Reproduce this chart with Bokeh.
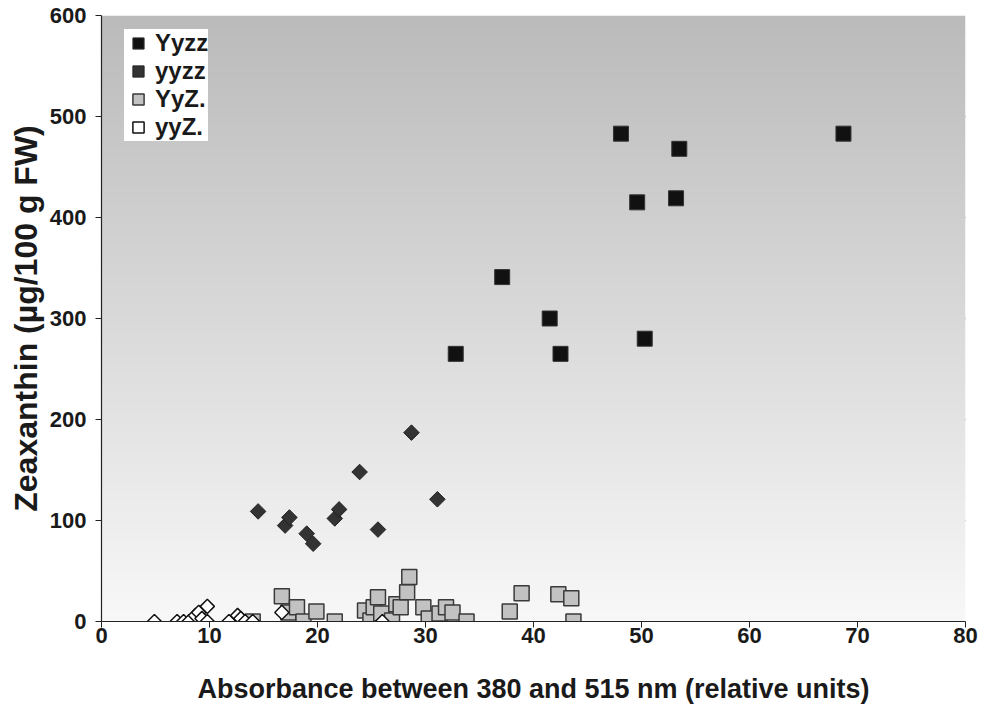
import numpy as np
from bokeh.plotting import figure
from bokeh.models import FixedTicker, Range1d, Legend, LegendItem
from bokeh.embed import file_html
from bokeh.resources import INLINE

# Genotype groups: absorbance (380-515 nm) vs zeaxanthin content
yyzz_dom_x = [32.8, 37.1, 41.5, 42.5, 48.1, 49.6, 50.3, 53.2, 53.5, 68.7]
yyzz_dom_y = [265, 341, 300, 265, 483, 415, 280, 419, 468, 483]

yyzz_x = [14.5, 17.0, 17.4, 19.0, 19.6, 21.6, 22.0, 23.9, 25.6, 28.7, 31.1]
yyzz_y = [109, 95, 103, 87, 77, 102, 111, 148, 91, 187, 121]

yyz_dom_x = [14.0, 16.7, 17.3, 18.1, 18.7, 19.9, 21.6, 24.4, 24.9, 25.2, 25.6,
             25.9, 26.9, 27.3, 27.7, 28.3, 28.5, 29.8, 30.3, 31.3, 31.9, 32.5,
             33.8, 37.8, 38.9, 42.3, 43.5, 43.7]
yyz_dom_y = [0, 25, 9, 14, 0, 10, 0, 11, 1, 14, 24, 8, 1, 17, 14, 29, 44, 14,
             3, 8, 14, 9, 0, 10, 28, 27, 23, 0]

yyz_x = [4.9, 7.0, 7.6, 8.1, 8.7, 9.0, 9.3, 9.8, 9.8, 11.8, 12.6, 12.9, 13.3,
         14.0, 16.7, 26.0]
yyz_y = [0, 0, 0, 0, 6, 9, 3, 15, 0, 0, 6, 3, 0, 0, 9, 0]

series_labels = ["Yyzz", "yyzz", "YyZ.", "yyZ."]
x_ticks = [0, 10, 20, 30, 40, 50, 60, 70, 80]
y_ticks = [0, 100, 200, 300, 400, 500, 600]

FONT = "Liberation Sans"

p = figure(width=985, height=712, output_backend="svg", toolbar_location=None,
           x_range=Range1d(0, 80), y_range=Range1d(0, 600),
           min_border_left=101, min_border_right=20,
           min_border_top=15, min_border_bottom=91)
p.background_fill_color = "white"
p.border_fill_color = "white"
p.outline_line_color = None

# vertical grey gradient behind the data
n = 256
t = np.linspace(0.0, 1.0, n)  # 0 at bottom, 1 at top
g = (248 - t * (248 - 187)).astype(np.uint32)
img = np.empty((n, 1), dtype=np.uint32)
view = img.view(dtype=np.uint8).reshape((n, 1, 4))
view[:, 0, 0] = g
view[:, 0, 1] = g
view[:, 0, 2] = g
view[:, 0, 3] = 255
p.image_rgba(image=[img], x=0, y=0, dw=80, dh=600)

# axes
for ax in (p.xaxis[0], p.yaxis[0]):
    ax.axis_line_color = "#222222"
    ax.axis_line_width = 1.2
    ax.major_tick_line_color = "#222222"
    ax.major_tick_out = 6
    ax.major_tick_in = 0
    ax.minor_tick_line_color = None
    ax.major_label_text_font = FONT
    ax.major_label_text_font_style = "bold"
    ax.major_label_text_font_size = "22px"
    ax.major_label_text_color = "#1a1a1a"
    ax.axis_label_text_font = FONT
    ax.axis_label_text_font_style = "bold"
    ax.axis_label_text_color = "#1a1a1a"

p.xaxis.ticker = FixedTicker(ticks=x_ticks)
p.yaxis.ticker = FixedTicker(ticks=y_ticks)
p.xaxis.axis_label = "Absorbance between 380 and 515 nm (relative units)"
p.yaxis.axis_label = "Zeaxanthin (\u00b5g/100 g FW)"
p.xaxis.axis_label_text_font_size = "27px"
p.yaxis.axis_label_text_font_size = "32px"
p.xaxis.major_label_standoff = 0
p.yaxis.major_label_standoff = 9
p.xaxis.axis_label_standoff = 28
p.yaxis.axis_label_standoff = 3

p.xgrid.grid_line_color = None
p.ygrid.ticker = FixedTicker(ticks=[100, 200, 300, 400, 500])
p.ygrid.grid_line_color = "#2a2a2a"
p.ygrid.grid_line_width = 1.5

r_dom = p.scatter(yyzz_dom_x, yyzz_dom_y, marker="square", size=15,
                  fill_color="#111111", line_color="#333333", line_width=1)
r_yyzz = p.scatter(yyzz_x, yyzz_y, marker="square", angle=np.pi / 4, size=11,
                   fill_color="#333333", line_color="#222222", line_width=1)
r_gray = p.scatter(yyz_dom_x, yyz_dom_y, marker="square", size=15,
                   fill_color="#c2c2c2", line_color="#3a3a3a", line_width=1.5)
r_white = p.scatter(yyz_x, yyz_y, marker="square", angle=np.pi / 4, size=10,
                    fill_color="white", line_color="#111111", line_width=1.5)

legend = Legend(items=[LegendItem(label=series_labels[0], renderers=[r_dom]),
                       LegendItem(label=series_labels[1], renderers=[r_yyzz]),
                       LegendItem(label=series_labels[2], renderers=[r_gray]),
                       LegendItem(label=series_labels[3], renderers=[r_white])],
                location=(23, 480))
legend.label_text_font = FONT
legend.label_text_font_style = "bold"
legend.label_text_font_size = "24px"
legend.label_text_color = "#1a1a1a"
legend.background_fill_color = "white"
legend.background_fill_alpha = 1.0
legend.border_line_color = None
legend.glyph_width = 28
legend.glyph_height = 28
legend.label_height = 28
legend.spacing = 0
legend.padding = 5
legend.margin = 0
legend.label_standoff = 3
p.add_layout(legend, "center")

open("out.html", "w").write(file_html(p, INLINE))
